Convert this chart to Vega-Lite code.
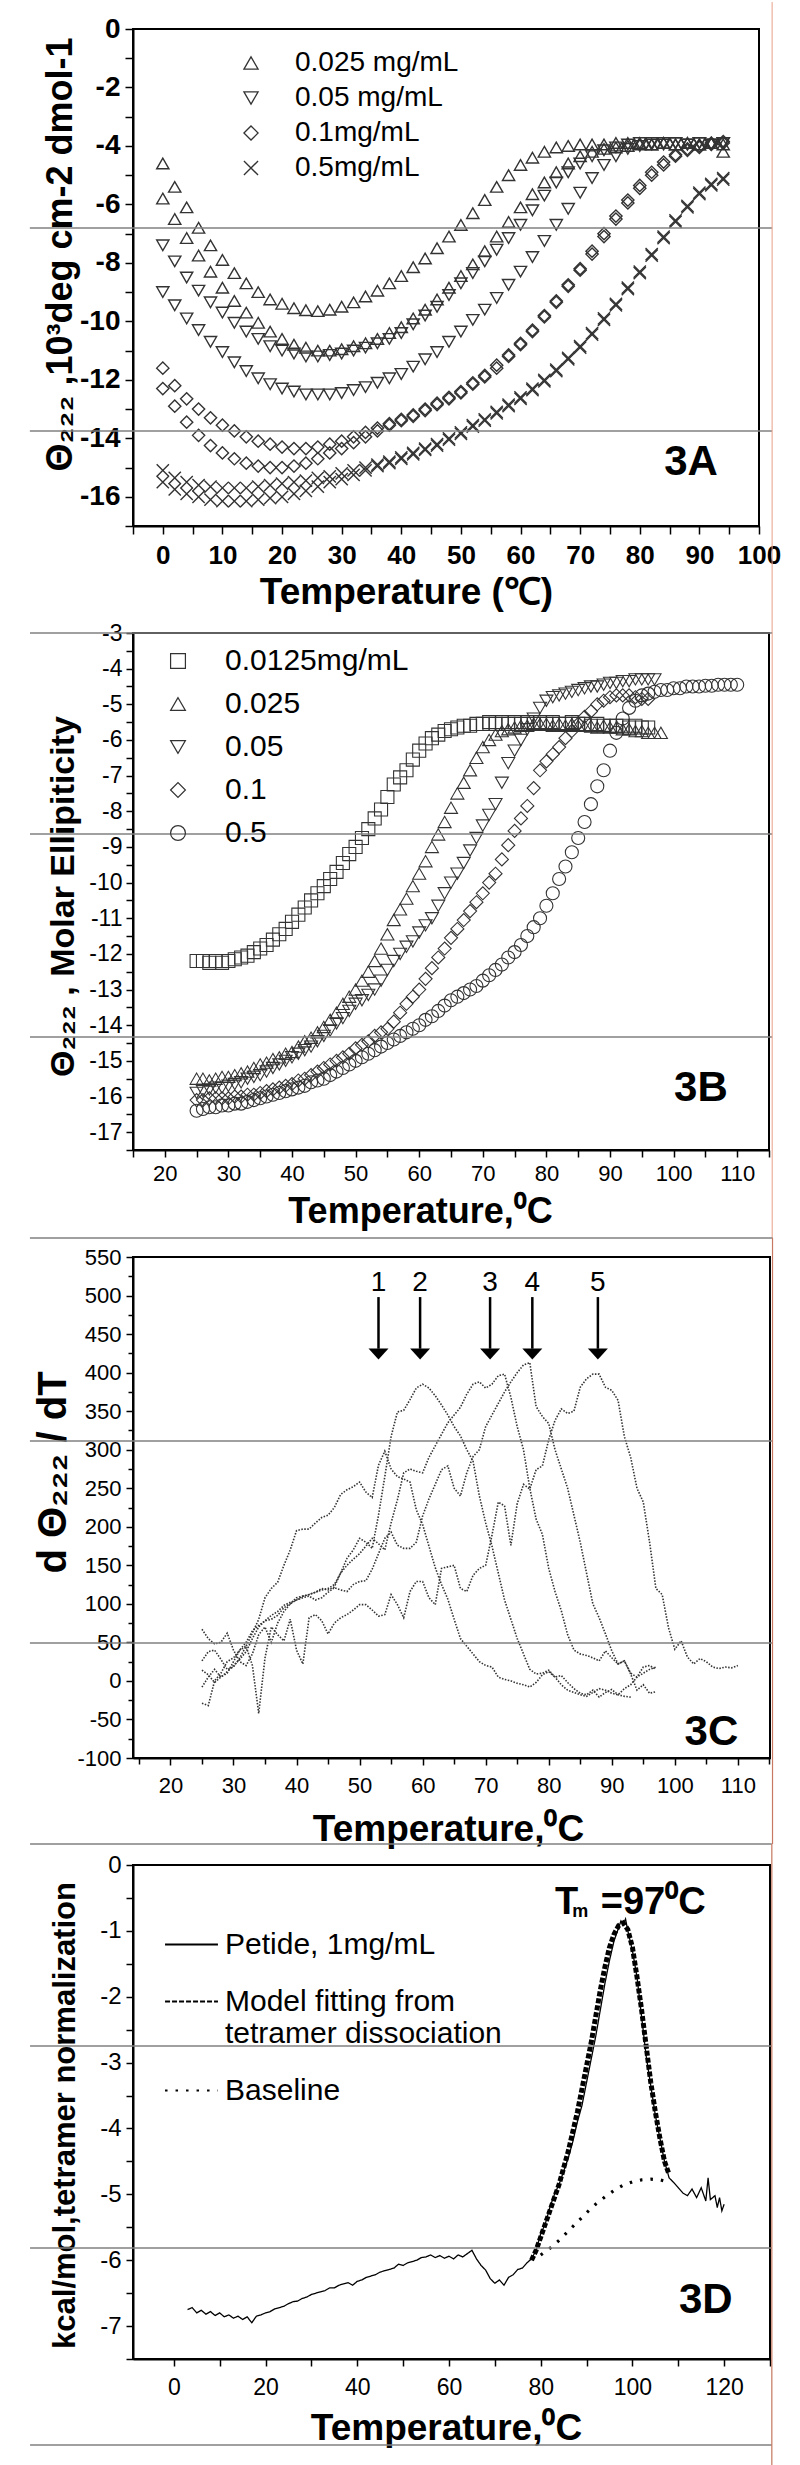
{
"$schema": "https://vega.github.io/schema/vega-lite/v6.json",
"background": "white",
"padding": {"left": 28, "top": 0, "right": 0, "bottom": 0},
"bounds": "flush",
"spacing": 107,
"config": {
 "font": "Liberation Sans",
 "view": {"stroke": "black", "strokeWidth": 2},
 "axis": {"domainColor": "black", "domainWidth": 2, "tickColor": "black", "tickWidth": 1.5, "labelColor": "black", "titleColor": "black", "grid": false, "labelFlush": false, "labelOverlap": false, "labelFont": "Liberation Sans", "titleFont": "Liberation Sans"},
 "legend": {"labelColor": "black", "labelFont": "Liberation Sans", "labelLimit": 500}
},
"resolve": {"scale": {"x": "independent", "y": "independent", "shape": "independent", "strokeDash": "independent", "strokeWidth": "independent"}, "legend": {"shape": "independent", "strokeDash": "independent", "strokeWidth": "independent"}},
"datasets": {
 "amap": [{"k":"a1","c":"0.025 mg/mL"},{"k":"a2","c":"0.025 mg/mL"},{"k":"a3","c":"0.05 mg/mL"},{"k":"a4","c":"0.05 mg/mL"},{"k":"a5","c":"0.1mg/mL"},{"k":"a6","c":"0.1mg/mL"},{"k":"a7","c":"0.5mg/mL"},{"k":"a8","c":"0.5mg/mL"}],
 "A": [
  {"t":0,"a1":-4.6,"a2":-5.8,"a3":-7.4,"a4":-9.0,"a5":-11.6,"a6":-12.3,"a7":-15.1,"a8":-15.5},
  {"t":2,"a1":-5.4,"a2":-6.5,"a3":-7.95,"a4":-9.45,"a5":-12.2,"a6":-12.9,"a7":-15.35,"a8":-15.75},
  {"t":4,"a1":-6.1,"a2":-7.15,"a3":-8.5,"a4":-9.9,"a5":-12.65,"a6":-13.45,"a7":-15.5,"a8":-15.9},
  {"t":6,"a1":-6.8,"a2":-7.75,"a3":-8.95,"a4":-10.3,"a5":-13.0,"a6":-13.9,"a7":-15.6,"a8":-16.0},
  {"t":8,"a1":-7.4,"a2":-8.3,"a3":-9.35,"a4":-10.7,"a5":-13.3,"a6":-14.25,"a7":-15.65,"a8":-16.1},
  {"t":10,"a1":-7.9,"a2":-8.85,"a3":-9.7,"a4":-11.05,"a5":-13.55,"a6":-14.5,"a7":-15.7,"a8":-16.15},
  {"t":12,"a1":-8.35,"a2":-9.3,"a3":-10.05,"a4":-11.4,"a5":-13.75,"a6":-14.7,"a7":-15.7,"a8":-16.15},
  {"t":14,"a1":-8.7,"a2":-9.7,"a3":-10.35,"a4":-11.7,"a5":-13.95,"a6":-14.85,"a7":-15.7,"a8":-16.15},
  {"t":16,"a1":-9.0,"a2":-10.05,"a3":-10.6,"a4":-11.95,"a5":-14.1,"a6":-14.95,"a7":-15.65,"a8":-16.1},
  {"t":18,"a1":-9.25,"a2":-10.35,"a3":-10.85,"a4":-12.15,"a5":-14.2,"a6":-15.0,"a7":-15.6,"a8":-16.05},
  {"t":20,"a1":-9.4,"a2":-10.6,"a3":-11.0,"a4":-12.3,"a5":-14.3,"a6":-15.0,"a7":-15.55,"a8":-16.0},
  {"t":22,"a1":-9.55,"a2":-10.8,"a3":-11.1,"a4":-12.4,"a5":-14.35,"a6":-14.95,"a7":-15.5,"a8":-15.9},
  {"t":24,"a1":-9.62,"a2":-10.9,"a3":-11.2,"a4":-12.5,"a5":-14.35,"a6":-14.85,"a7":-15.45,"a8":-15.8},
  {"t":26,"a1":-9.65,"a2":-11.0,"a3":-11.2,"a4":-12.5,"a5":-14.3,"a6":-14.7,"a7":-15.35,"a8":-15.65},
  {"t":28,"a1":-9.6,"a2":-11.0,"a3":-11.15,"a4":-12.5,"a5":-14.2,"a6":-14.5,"a7":-15.3,"a8":-15.5},
  {"t":30,"a1":-9.5,"a2":-10.95,"a3":-11.1,"a4":-12.45,"a5":-14.1,"a6":-14.35,"a7":-15.2,"a8":-15.4},
  {"t":32,"a1":-9.35,"a2":-10.85,"a3":-11.0,"a4":-12.35,"a5":-13.95,"a6":-14.15,"a7":-15.1,"a8":-15.25},
  {"t":34,"a1":-9.15,"a2":-10.75,"a3":-10.9,"a4":-12.25,"a5":-13.8,"a6":-13.95,"a7":-15.0,"a8":-15.1},
  {"t":36,"a1":-8.95,"a2":-10.6,"a3":-10.75,"a4":-12.1,"a5":-13.65,"a6":-13.75,"a7":-14.9,"a8":-14.95},
  {"t":38,"a1":-8.7,"a2":-10.4,"a3":-10.6,"a4":-11.95,"a5":-13.5,"a6":-13.55,"a7":-14.8,"a8":-14.85},
  {"t":40,"a1":-8.45,"a2":-10.2,"a3":-10.4,"a4":-11.8,"a5":-13.35,"a6":-13.4,"a7":-14.65,"a8":-14.7},
  {"t":42,"a1":-8.15,"a2":-9.9,"a3":-10.1,"a4":-11.55,"a5":-13.2,"a6":-13.25,"a7":-14.5,"a8":-14.55},
  {"t":44,"a1":-7.85,"a2":-9.6,"a3":-9.8,"a4":-11.3,"a5":-13.0,"a6":-13.05,"a7":-14.35,"a8":-14.4},
  {"t":46,"a1":-7.5,"a2":-9.25,"a3":-9.5,"a4":-11.05,"a5":-12.8,"a6":-12.85,"a7":-14.2,"a8":-14.25},
  {"t":48,"a1":-7.1,"a2":-8.85,"a3":-9.1,"a4":-10.7,"a5":-12.6,"a6":-12.65,"a7":-14.0,"a8":-14.05},
  {"t":50,"a1":-6.7,"a2":-8.45,"a3":-8.7,"a4":-10.35,"a5":-12.4,"a6":-12.45,"a7":-13.8,"a8":-13.85},
  {"t":52,"a1":-6.3,"a2":-8.05,"a3":-8.35,"a4":-9.95,"a5":-12.1,"a6":-12.15,"a7":-13.55,"a8":-13.6},
  {"t":54,"a1":-5.85,"a2":-7.6,"a3":-7.95,"a4":-9.6,"a5":-11.85,"a6":-11.9,"a7":-13.35,"a8":-13.4},
  {"t":56,"a1":-5.4,"a2":-7.1,"a3":-7.55,"a4":-9.2,"a5":-11.5,"a6":-11.6,"a7":-13.1,"a8":-13.15},
  {"t":58,"a1":-5.0,"a2":-6.6,"a3":-7.15,"a4":-8.75,"a5":-11.15,"a6":-11.2,"a7":-12.85,"a8":-12.9},
  {"t":60,"a1":-4.65,"a2":-6.1,"a3":-6.7,"a4":-8.3,"a5":-10.75,"a6":-10.8,"a7":-12.6,"a8":-12.65},
  {"t":62,"a1":-4.4,"a2":-5.65,"a3":-6.2,"a4":-7.8,"a5":-10.3,"a6":-10.35,"a7":-12.3,"a8":-12.35},
  {"t":64,"a1":-4.2,"a2":-5.25,"a3":-5.7,"a4":-7.25,"a5":-9.8,"a6":-9.85,"a7":-12.0,"a8":-12.05},
  {"t":66,"a1":-4.05,"a2":-4.9,"a3":-5.25,"a4":-6.7,"a5":-9.3,"a6":-9.35,"a7":-11.65,"a8":-11.7},
  {"t":68,"a1":-4.0,"a2":-4.6,"a3":-4.9,"a4":-6.15,"a5":-8.75,"a6":-8.8,"a7":-11.25,"a8":-11.3},
  {"t":70,"a1":-3.95,"a2":-4.35,"a3":-4.6,"a4":-5.6,"a5":-8.2,"a6":-8.25,"a7":-10.85,"a8":-10.9},
  {"t":72,"a1":-3.95,"a2":-4.2,"a3":-4.35,"a4":-5.1,"a5":-7.6,"a6":-7.7,"a7":-10.4,"a8":-10.45},
  {"t":74,"a1":-3.95,"a2":-4.1,"a3":-4.15,"a4":-4.65,"a5":-7.0,"a6":-7.1,"a7":-9.9,"a8":-9.95},
  {"t":76,"a1":-3.9,"a2":-4.05,"a3":-4.05,"a4":-4.35,"a5":-6.4,"a6":-6.5,"a7":-9.4,"a8":-9.45},
  {"t":78,"a1":-3.9,"a2":-4.0,"a3":-3.95,"a4":-4.1,"a5":-5.85,"a6":-5.95,"a7":-8.85,"a8":-8.9},
  {"t":80,"a1":-3.9,"a2":-3.95,"a3":-3.9,"a4":-4.0,"a5":-5.35,"a6":-5.45,"a7":-8.3,"a8":-8.35},
  {"t":82,"a1":-3.95,"a2":-3.95,"a3":-3.9,"a4":-3.95,"a5":-4.9,"a6":-5.0,"a7":-7.7,"a8":-7.75},
  {"t":84,"a1":-3.9,"a2":-3.9,"a3":-3.95,"a4":-3.9,"a5":-4.55,"a6":-4.65,"a7":-7.1,"a8":-7.15},
  {"t":86,"a1":-3.95,"a2":-3.95,"a3":-3.9,"a4":-3.9,"a5":-4.3,"a6":-4.35,"a7":-6.55,"a8":-6.6},
  {"t":88,"a1":-3.9,"a2":-3.9,"a3":-3.95,"a4":-3.95,"a5":-4.1,"a6":-4.15,"a7":-6.05,"a8":-6.1},
  {"t":90,"a1":-3.95,"a2":-3.95,"a3":-3.9,"a4":-3.9,"a5":-4.0,"a6":-4.05,"a7":-5.6,"a8":-5.65},
  {"t":92,"a1":-3.9,"a2":-3.9,"a3":-3.95,"a4":-3.95,"a5":-3.9,"a6":-3.95,"a7":-5.3,"a8":-5.35},
  {"t":94,"a1":-4.2,"a2":-3.95,"a3":-3.9,"a4":-3.9,"a5":-3.85,"a6":-3.9,"a7":-5.1,"a8":-5.15}
 ],
 "bmap": [{"k":"b1","c":"0.0125mg/mL"},{"k":"b2","c":"0.025"},{"k":"b3","c":"0.05"},{"k":"b4","c":"0.1"},{"k":"b5","c":"0.5"}],
 "B": [
  {"t":25,"b1":-12.2,"b2":-15.5,"b3":-15.9,"b4":-16.1,"b5":-16.4},
  {"t":26,"b1":-12.2,"b2":-15.5,"b3":-15.85,"b4":-16.1,"b5":-16.35},
  {"t":27,"b1":-12.25,"b2":-15.55,"b3":-15.8,"b4":-16.05,"b5":-16.3},
  {"t":28,"b1":-12.2,"b2":-15.5,"b3":-15.75,"b4":-16.05,"b5":-16.3},
  {"t":29,"b1":-12.25,"b2":-15.45,"b3":-15.75,"b4":-16.05,"b5":-16.25},
  {"t":30,"b1":-12.2,"b2":-15.45,"b3":-15.7,"b4":-16.05,"b5":-16.25},
  {"t":31,"b1":-12.15,"b2":-15.4,"b3":-15.65,"b4":-16.0,"b5":-16.2},
  {"t":32,"b1":-12.1,"b2":-15.35,"b3":-15.6,"b4":-16.0,"b5":-16.2},
  {"t":33,"b1":-12.05,"b2":-15.3,"b3":-15.5,"b4":-15.95,"b5":-16.15},
  {"t":34,"b1":-11.95,"b2":-15.2,"b3":-15.45,"b4":-15.95,"b5":-16.1},
  {"t":35,"b1":-11.85,"b2":-15.1,"b3":-15.4,"b4":-15.9,"b5":-16.05},
  {"t":36,"b1":-11.75,"b2":-15.05,"b3":-15.3,"b4":-15.85,"b5":-16.0},
  {"t":37,"b1":-11.6,"b2":-14.95,"b3":-15.2,"b4":-15.8,"b5":-15.95},
  {"t":38,"b1":-11.45,"b2":-14.9,"b3":-15.1,"b4":-15.75,"b5":-15.9},
  {"t":39,"b1":-11.3,"b2":-14.8,"b3":-15.0,"b4":-15.7,"b5":-15.85},
  {"t":40,"b1":-11.1,"b2":-14.75,"b3":-14.9,"b4":-15.65,"b5":-15.8},
  {"t":41,"b1":-10.9,"b2":-14.6,"b3":-14.8,"b4":-15.55,"b5":-15.75},
  {"t":42,"b1":-10.7,"b2":-14.45,"b3":-14.7,"b4":-15.5,"b5":-15.7},
  {"t":43,"b1":-10.5,"b2":-14.35,"b3":-14.6,"b4":-15.4,"b5":-15.6},
  {"t":44,"b1":-10.3,"b2":-14.2,"b3":-14.45,"b4":-15.3,"b5":-15.55},
  {"t":45,"b1":-10.1,"b2":-14.05,"b3":-14.3,"b4":-15.2,"b5":-15.5},
  {"t":46,"b1":-9.9,"b2":-13.85,"b3":-14.15,"b4":-15.1,"b5":-15.4},
  {"t":47,"b1":-9.7,"b2":-13.65,"b3":-13.95,"b4":-15.0,"b5":-15.3},
  {"t":48,"b1":-9.45,"b2":-13.4,"b3":-13.8,"b4":-14.9,"b5":-15.2},
  {"t":49,"b1":-9.2,"b2":-13.2,"b3":-13.6,"b4":-14.8,"b5":-15.1},
  {"t":50,"b1":-9.0,"b2":-13.0,"b3":-13.4,"b4":-14.65,"b5":-15.0},
  {"t":51,"b1":-8.75,"b2":-12.75,"b3":-13.3,"b4":-14.55,"b5":-14.9},
  {"t":52,"b1":-8.5,"b2":-12.5,"b3":-13.15,"b4":-14.45,"b5":-14.8},
  {"t":53,"b1":-8.2,"b2":-12.2,"b3":-13.0,"b4":-14.3,"b5":-14.7},
  {"t":54,"b1":-7.95,"b2":-11.85,"b3":-12.75,"b4":-14.2,"b5":-14.6},
  {"t":55,"b1":-7.6,"b2":-11.45,"b3":-12.45,"b4":-14.1,"b5":-14.5},
  {"t":56,"b1":-7.25,"b2":-11.05,"b3":-12.2,"b4":-13.9,"b5":-14.4},
  {"t":57,"b1":-7.05,"b2":-10.75,"b3":-12.0,"b4":-13.65,"b5":-14.3},
  {"t":58,"b1":-6.85,"b2":-10.45,"b3":-11.8,"b4":-13.4,"b5":-14.2},
  {"t":59,"b1":-6.55,"b2":-10.1,"b3":-11.65,"b4":-13.2,"b5":-14.1},
  {"t":60,"b1":-6.3,"b2":-9.75,"b3":-11.4,"b4":-13.0,"b5":-14.0},
  {"t":61,"b1":-6.1,"b2":-9.4,"b3":-11.2,"b4":-12.7,"b5":-13.85},
  {"t":62,"b1":-5.95,"b2":-9.0,"b3":-11.0,"b4":-12.4,"b5":-13.75},
  {"t":63,"b1":-5.85,"b2":-8.65,"b3":-10.65,"b4":-12.1,"b5":-13.6},
  {"t":64,"b1":-5.75,"b2":-8.3,"b3":-10.3,"b4":-11.85,"b5":-13.45},
  {"t":65,"b1":-5.7,"b2":-7.9,"b3":-10.0,"b4":-11.55,"b5":-13.3},
  {"t":66,"b1":-5.65,"b2":-7.5,"b3":-9.75,"b4":-11.3,"b5":-13.2},
  {"t":67,"b1":-5.6,"b2":-7.2,"b3":-9.45,"b4":-11.05,"b5":-13.1},
  {"t":68,"b1":-5.6,"b2":-6.85,"b3":-9.1,"b4":-10.8,"b5":-13.0},
  {"t":69,"b1":-5.55,"b2":-6.5,"b3":-8.75,"b4":-10.55,"b5":-12.9},
  {"t":70,"b1":-5.55,"b2":-6.2,"b3":-8.4,"b4":-10.3,"b5":-12.75},
  {"t":71,"b1":-5.5,"b2":-6.0,"b3":-8.1,"b4":-10.0,"b5":-12.6},
  {"t":72,"b1":-5.55,"b2":-5.85,"b3":-7.8,"b4":-9.75,"b5":-12.45},
  {"t":73,"b1":-5.5,"b2":-5.75,"b3":-7.2,"b4":-9.35,"b5":-12.3},
  {"t":74,"b1":-5.55,"b2":-5.7,"b3":-6.65,"b4":-8.95,"b5":-12.1},
  {"t":75,"b1":-5.5,"b2":-5.65,"b3":-6.3,"b4":-8.55,"b5":-11.95},
  {"t":76,"b1":-5.55,"b2":-5.6,"b3":-6.0,"b4":-8.2,"b5":-11.75},
  {"t":77,"b1":-5.5,"b2":-5.6,"b3":-5.7,"b4":-7.85,"b5":-11.5},
  {"t":78,"b1":-5.55,"b2":-5.55,"b3":-5.4,"b4":-7.35,"b5":-11.25},
  {"t":79,"b1":-5.5,"b2":-5.55,"b3":-5.1,"b4":-6.85,"b5":-11.0},
  {"t":80,"b1":-5.55,"b2":-5.55,"b3":-4.9,"b4":-6.6,"b5":-10.65},
  {"t":81,"b1":-5.5,"b2":-5.6,"b3":-4.8,"b4":-6.4,"b5":-10.3},
  {"t":82,"b1":-5.55,"b2":-5.55,"b3":-4.75,"b4":-6.2,"b5":-9.9},
  {"t":83,"b1":-5.55,"b2":-5.6,"b3":-4.7,"b4":-5.95,"b5":-9.55},
  {"t":84,"b1":-5.5,"b2":-5.55,"b3":-4.65,"b4":-5.75,"b5":-9.15},
  {"t":85,"b1":-5.55,"b2":-5.6,"b3":-4.6,"b4":-5.55,"b5":-8.75},
  {"t":86,"b1":-5.55,"b2":-5.6,"b3":-4.55,"b4":-5.35,"b5":-8.3},
  {"t":87,"b1":-5.6,"b2":-5.6,"b3":-4.5,"b4":-5.2,"b5":-7.8},
  {"t":88,"b1":-5.55,"b2":-5.65,"b3":-4.5,"b4":-5.0,"b5":-7.3},
  {"t":89,"b1":-5.6,"b2":-5.6,"b3":-4.45,"b4":-4.9,"b5":-6.85},
  {"t":90,"b1":-5.6,"b2":-5.65,"b3":-4.4,"b4":-4.8,"b5":-6.3},
  {"t":91,"b1":-5.6,"b2":-5.65,"b3":-4.4,"b4":-4.75,"b5":-5.8},
  {"t":92,"b1":-5.6,"b2":-5.7,"b3":-4.35,"b4":-4.75,"b5":-5.4},
  {"t":93,"b1":-5.65,"b2":-5.7,"b3":-4.35,"b4":-4.75,"b5":-5.1},
  {"t":94,"b1":-5.6,"b2":-5.75,"b3":-4.3,"b4":-4.8,"b5":-4.9},
  {"t":95,"b1":-5.65,"b2":-5.75,"b3":-4.3,"b4":-4.85,"b5":-4.75},
  {"t":96,"b1":-5.65,"b2":-5.8,"b3":-4.3,"b4":-4.85,"b5":-4.7},
  {"t":97,"b2":-5.8,"b3":-4.3,"b5":-4.65},
  {"t":98,"b2":-5.8,"b5":-4.6},
  {"t":99,"b5":-4.6},{"t":100,"b5":-4.55},{"t":101,"b5":-4.55},{"t":102,"b5":-4.5},{"t":103,"b5":-4.5},{"t":104,"b5":-4.5},{"t":105,"b5":-4.48},{"t":106,"b5":-4.48},{"t":107,"b5":-4.45},{"t":108,"b5":-4.45},{"t":109,"b5":-4.45},{"t":110,"b5":-4.45}
 ],
 "C": [
  {"t":25,"c1":26,"c2":14,"c3":-8,"c4":67,"c5":-29},
  {"t":26,"c1":38,"c2":8,"c3":5,"c4":55,"c5":-32},
  {"t":27,"c1":40,"c2":-2,"c3":15,"c4":48,"c5":0},
  {"t":28,"c1":28,"c2":5,"c3":5,"c4":50,"c5":10},
  {"t":29,"c1":15,"c2":12,"c3":10,"c4":62,"c5":25},
  {"t":30,"c1":18,"c2":20,"c3":25,"c4":40,"c5":30},
  {"t":31,"c1":30,"c2":28,"c3":40,"c4":25,"c5":40},
  {"t":32,"c1":45,"c2":38,"c3":50,"c4":20,"c5":45},
  {"t":33,"c1":62,"c2":55,"c3":65,"c4":35,"c5":20},
  {"t":34,"c1":80,"c2":70,"c3":72,"c4":60,"c5":-42},
  {"t":35,"c1":108,"c2":78,"c3":78,"c4":70,"c5":30},
  {"t":36,"c1":120,"c2":80,"c3":85,"c4":50,"c5":70},
  {"t":37,"c1":128,"c2":85,"c3":90,"c4":75,"c5":60},
  {"t":38,"c1":150,"c2":95,"c3":98,"c4":90,"c5":52},
  {"t":39,"c1":170,"c2":100,"c3":102,"c4":100,"c5":80},
  {"t":40,"c1":195,"c2":108,"c3":105,"c4":105,"c5":40},
  {"t":41,"c1":197,"c2":110,"c3":110,"c4":108,"c5":22},
  {"t":42,"c1":197,"c2":112,"c3":112,"c4":110,"c5":82},
  {"t":43,"c1":205,"c2":115,"c3":115,"c4":105,"c5":86},
  {"t":44,"c1":212,"c2":118,"c3":120,"c4":108,"c5":78},
  {"t":45,"c1":215,"c2":120,"c3":118,"c4":115,"c5":61},
  {"t":46,"c1":225,"c2":125,"c3":122,"c4":121,"c5":75},
  {"t":47,"c1":242,"c2":140,"c3":140,"c4":118,"c5":82},
  {"t":48,"c1":248,"c2":159,"c3":150,"c4":116,"c5":86},
  {"t":49,"c1":252,"c2":170,"c3":158,"c4":125,"c5":92},
  {"t":50,"c1":258,"c2":185,"c3":165,"c4":129,"c5":99},
  {"t":51,"c1":245,"c2":180,"c3":175,"c4":130,"c5":99},
  {"t":52,"c1":238,"c2":172,"c3":185,"c4":145,"c5":92},
  {"t":53,"c1":280,"c2":215,"c3":178,"c4":165,"c5":84},
  {"t":54,"c1":298,"c2":265,"c3":170,"c4":185,"c5":86},
  {"t":55,"c1":275,"c2":317,"c3":205,"c4":193,"c5":112},
  {"t":56,"c1":265,"c2":349,"c3":235,"c4":176,"c5":99},
  {"t":57,"c1":262,"c2":351,"c3":270,"c4":172,"c5":82},
  {"t":58,"c1":258,"c2":365,"c3":275,"c4":172,"c5":116},
  {"t":59,"c1":222,"c2":380,"c3":272,"c4":180,"c5":129},
  {"t":60,"c1":203,"c2":385,"c3":270,"c4":214,"c5":129},
  {"t":61,"c1":175,"c2":380,"c3":290,"c4":236,"c5":108},
  {"t":62,"c1":147,"c2":370,"c3":305,"c4":255,"c5":99},
  {"t":63,"c1":125,"c2":358,"c3":320,"c4":274,"c5":146},
  {"t":64,"c1":106,"c2":345,"c3":335,"c4":279,"c5":148},
  {"t":65,"c1":80,"c2":330,"c3":345,"c4":250,"c5":150},
  {"t":66,"c1":55,"c2":318,"c3":355,"c4":240,"c5":120},
  {"t":67,"c1":45,"c2":300,"c3":372,"c4":270,"c5":116},
  {"t":68,"c1":35,"c2":285,"c3":385,"c4":291,"c5":137},
  {"t":69,"c1":25,"c2":240,"c3":388,"c4":300,"c5":146},
  {"t":70,"c1":20,"c2":205,"c3":380,"c4":330,"c5":150},
  {"t":71,"c1":18,"c2":175,"c3":385,"c4":345,"c5":189},
  {"t":72,"c1":5,"c2":140,"c3":396,"c4":360,"c5":232},
  {"t":73,"c1":2,"c2":105,"c3":398,"c4":375,"c5":227},
  {"t":74,"c1":0,"c2":80,"c3":368,"c4":388,"c5":176},
  {"t":75,"c1":-3,"c2":55,"c3":330,"c4":400,"c5":230},
  {"t":76,"c1":-5,"c2":35,"c3":300,"c4":410,"c5":255},
  {"t":77,"c1":-8,"c2":15,"c3":250,"c4":413,"c5":249},
  {"t":78,"c1":-2,"c2":9,"c3":210,"c4":356,"c5":274},
  {"t":79,"c1":8,"c2":10,"c3":190,"c4":343,"c5":279},
  {"t":80,"c1":12,"c2":14,"c3":146,"c4":334,"c5":313},
  {"t":81,"c1":5,"c2":5,"c3":116,"c4":300,"c5":338},
  {"t":82,"c1":7,"c2":-5,"c3":91,"c4":275,"c5":353},
  {"t":83,"c1":-2,"c2":-12,"c3":60,"c4":250,"c5":347},
  {"t":84,"c1":-10,"c2":-15,"c3":40,"c4":215,"c5":350},
  {"t":85,"c1":-16,"c2":-18,"c3":35,"c4":180,"c5":381},
  {"t":86,"c1":-18,"c2":-20,"c3":33,"c4":140,"c5":392},
  {"t":87,"c1":-12,"c2":-15,"c3":30,"c4":100,"c5":398},
  {"t":88,"c1":-21,"c2":-10,"c3":26,"c4":82,"c5":398},
  {"t":89,"c1":-15,"c2":-12,"c3":39,"c4":61,"c5":381},
  {"t":90,"c1":-11,"c2":-16,"c3":30,"c4":39,"c5":377},
  {"t":91,"c1":-18,"c2":-18,"c3":22,"c4":22,"c5":364},
  {"t":92,"c1":-20,"c2":-10,"c3":26,"c4":26,"c5":317},
  {"t":93,"c1":-21,"c2":-5,"c3":10,"c4":9,"c5":290},
  {"t":94,"c2":5,"c3":5,"c4":-12,"c5":250},
  {"t":95,"c2":10,"c3":18,"c4":-5,"c5":232},
  {"t":96,"c2":15,"c3":20,"c4":-16,"c5":180},
  {"t":97,"c2":18,"c3":15,"c4":-14,"c5":120},
  {"t":98,"c5":112},{"t":99,"c5":69},{"t":100,"c5":41},{"t":101,"c5":52},{"t":102,"c5":31},{"t":103,"c5":22},{"t":104,"c5":29},{"t":105,"c5":25},{"t":106,"c5":18},{"t":107,"c5":16},{"t":108,"c5":18},{"t":109,"c5":17},{"t":110,"c5":20}
 ],
 "dmap": [{"k":"p","s":"Petide, 1mg/mL"},{"k":"m","s":"Model fitting from tetramer dissociation"},{"k":"b","s":"Baseline"}],
 "D": [
  {"t":3,"p":-6.75},{"t":4,"p":-6.72},{"t":5,"p":-6.8},{"t":6,"p":-6.76},{"t":7,"p":-6.82},{"t":8,"p":-6.78},{"t":9,"p":-6.84},{"t":10,"p":-6.8},
  {"t":11,"p":-6.86},{"t":12,"p":-6.83},{"t":13,"p":-6.88},{"t":14,"p":-6.85},{"t":15,"p":-6.9},{"t":16,"p":-6.86},{"t":17,"p":-6.95},{"t":18,"p":-6.85},
  {"t":19,"p":-6.83},{"t":20,"p":-6.8},{"t":21,"p":-6.78},{"t":22,"p":-6.74},{"t":23,"p":-6.72},{"t":24,"p":-6.7},{"t":25,"p":-6.66},{"t":26,"p":-6.63},
  {"t":27,"p":-6.62},{"t":28,"p":-6.58},{"t":29,"p":-6.56},{"t":30,"p":-6.52},{"t":31,"p":-6.5},{"t":32,"p":-6.48},{"t":33,"p":-6.46},{"t":34,"p":-6.42},
  {"t":35,"p":-6.42},{"t":36,"p":-6.38},{"t":37,"p":-6.36},{"t":38,"p":-6.34},{"t":39,"p":-6.38},{"t":40,"p":-6.32},{"t":41,"p":-6.3},{"t":42,"p":-6.26},
  {"t":43,"p":-6.24},{"t":44,"p":-6.22},{"t":45,"p":-6.18},{"t":46,"p":-6.16},{"t":47,"p":-6.14},{"t":48,"p":-6.12},{"t":49,"p":-6.06},{"t":50,"p":-6.08},
  {"t":51,"p":-6.04},{"t":52,"p":-6.02},{"t":53,"p":-6.0},{"t":54,"p":-5.96},{"t":55,"p":-5.95},{"t":56,"p":-5.92},{"t":57,"p":-5.96},{"t":58,"p":-5.93},
  {"t":59,"p":-5.97},{"t":60,"p":-5.94},{"t":61,"p":-5.98},{"t":62,"p":-5.92},{"t":63,"p":-5.95},{"t":64,"p":-5.9},{"t":65,"p":-5.85},{"t":66,"p":-5.98},
  {"t":67,"p":-6.08},{"t":68,"p":-6.15},{"t":69,"p":-6.28},{"t":70,"p":-6.35},{"t":71,"p":-6.3},{"t":72,"p":-6.38},{"t":73,"p":-6.26},{"t":74,"p":-6.22},
  {"t":75,"p":-6.14},{"t":76,"p":-6.12},{"t":77,"p":-6.04},
  {"t":78,"p":-5.98,"m":-6.0},{"t":79,"p":-5.85,"m":-5.85},{"t":80,"p":-5.6,"m":-5.65,"b":-5.92},{"t":81,"p":-5.45,"m":-5.45},
  {"t":82,"p":-5.2,"m":-5.25,"b":-5.82},{"t":83,"p":-5.0,"m":-5.05},{"t":84,"p":-4.85,"m":-4.85,"b":-5.7},{"t":85,"p":-4.65,"m":-4.6},
  {"t":86,"p":-4.45,"m":-4.35,"b":-5.56},{"t":87,"p":-4.2,"m":-4.05},{"t":88,"p":-3.9,"m":-3.75,"b":-5.42},{"t":89,"p":-3.65,"m":-3.4},
  {"t":90,"p":-3.3,"m":-3.05,"b":-5.28},{"t":91,"p":-2.95,"m":-2.7},{"t":92,"p":-2.6,"m":-2.3,"b":-5.15},{"t":93,"p":-2.2,"m":-1.9},
  {"t":94,"p":-1.8,"m":-1.55,"b":-5.04},{"t":95,"p":-1.45,"m":-1.25},{"t":96,"p":-1.15,"m":-1.05,"b":-4.94},{"t":97,"p":-0.95,"m":-0.92},
  {"t":97.5,"p":-0.85},{"t":98,"p":-0.9,"m":-0.88,"b":-4.86},{"t":98.5,"p":-0.82},{"t":99,"p":-1.0,"m":-0.98},
  {"t":100,"p":-1.3,"m":-1.25,"b":-4.81},{"t":101,"p":-1.7,"m":-1.7},{"t":102,"p":-2.3,"m":-2.2,"b":-4.78},{"t":103,"p":-2.9,"m":-2.75},
  {"t":104,"p":-3.35,"m":-3.3,"b":-4.77},{"t":105,"p":-3.8,"m":-3.75},{"t":106,"p":-4.15,"m":-4.15,"b":-4.78},{"t":107,"p":-4.5,"m":-4.5},
  {"t":108,"p":-4.75,"m":-4.7,"b":-4.82},{"t":109,"p":-4.82},{"t":110,"p":-4.9},{"t":111,"p":-4.98},{"t":112,"p":-5.02},{"t":113,"p":-4.92},
  {"t":114,"p":-5.05},{"t":115,"p":-4.9},{"t":116,"p":-5.1},{"t":116.5,"p":-4.75},{"t":117,"p":-5.08},{"t":118,"p":-5.02},{"t":118.5,"p":-5.2},
  {"t":119,"p":-5.05},{"t":119.5,"p":-5.25},{"t":120,"p":-5.15}
 ],
 "arrows": [{"n":"1","t":53},{"n":"2","t":59.6},{"n":"3","t":70.7},{"n":"4","t":77.4},{"n":"5","t":87.8}]
},
"vconcat": [
 {
  "width": 626, "height": 497,
  "resolve": {"axis": {"x": "independent", "y": "independent"}},
  "layer": [
   {
    "data": {"name": "A"},
    "transform": [
     {"fold": ["a1","a2","a3","a4","a5","a6","a7","a8"], "as": ["k","v"]},
     {"filter": "isValid(datum.v)"},
     {"lookup": "k", "from": {"data": {"name": "amap"}, "key": "k", "fields": ["c"]}}
    ],
    "mark": {"type": "point", "filled": false, "size": 150, "strokeWidth": 1.4, "color": "#333333", "opacity": 1},
    "encoding": {
     "x": {"field": "t", "type": "quantitative", "scale": {"domain": [-5, 100], "nice": false, "zero": false},
      "axis": {"orient": "bottom", "values": [0,10,20,30,40,50,60,70,80,90,100], "labelExpr": "'' + datum.value", "labelOverlap": false,
       "tickSize": 8, "labelFontSize": 26, "labelFontWeight": "bold", "labelPadding": 8,
       "title": "Temperature (℃)", "titleFontSize": 37, "titleFontWeight": "bold", "titleX": 273, "titleY": 66, "titleBaseline": "middle"}},
     "y": {"field": "v", "type": "quantitative", "scale": {"domain": [-17, 0], "nice": false, "zero": false},
      "axis": {"orient": "left", "values": [-16,-14,-12,-10,-8,-6,-4,-2,0], "labelExpr": "'' + datum.value", "labelOverlap": false,
       "tickSize": 8, "labelFontSize": 28, "labelFontWeight": "bold", "labelPadding": 5,
       "title": "Θ₂₂₂ ,10³deg cm-2 dmol-1", "titleFontSize": 36, "titleFontWeight": "bold", "titleX": -73, "titleY": 225, "titleBaseline": "middle"}},
     "shape": {"field": "c", "type": "nominal",
      "scale": {"domain": ["0.025 mg/mL","0.05 mg/mL","0.1mg/mL","0.5mg/mL"], "range": ["triangle-up","triangle-down","diamond","M-1,-1L1,1M1,-1L-1,1"]},
      "legend": {"orient": "none", "legendX": 104, "legendY": 20, "title": null, "labelFontSize": 28, "symbolSize": 200, "symbolStrokeWidth": 1.3, "symbolStrokeColor": "#333333", "labelOffset": 30, "rowPadding": 7}}
    }
   },
   {
    "data": {"values": [{"v": -6.81}, {"v": -13.75}]},
    "mark": {"type": "rule", "color": "#808080", "strokeWidth": 1.5},
    "encoding": {
     "y": {"field": "v", "type": "quantitative", "axis": {"orient": "left", "values": [-17,-15,-13,-11,-9,-7,-5,-3,-1], "labels": false, "domain": false, "title": null, "tickSize": 8}},
     "x": {"datum": -22.3, "axis": {"orient": "bottom", "values": [-5,5,15,25,35,45,55,65,75,85,95], "labels": false, "domain": false, "title": null, "tickSize": 8}},
     "x2": {"datum": 102.2}}
   },
   {
    "data": {"values": [{}]},
    "mark": {"type": "rule", "color": "#e8a088", "strokeWidth": 1},
    "encoding": {"x": {"datum": 102.2, "axis": null}, "y": {"datum": 0.92, "axis": null}, "y2": {"datum": -20.66}}
   },
   {
    "data": {"values": [{}]},
    "mark": {"type": "text", "fontSize": 42, "fontWeight": "bold", "color": "black"},
    "encoding": {"x": {"datum": 88.6, "axis": null}, "y": {"datum": -14.81, "axis": null}, "text": {"value": "3A"}}
   }
  ]
 },
 {
  "width": 636, "height": 517,
  "resolve": {"axis": {"x": "independent", "y": "independent"}},
  "layer": [
   {
    "data": {"name": "B"},
    "transform": [
     {"fold": ["b1","b2","b3","b4","b5"], "as": ["k","v"]},
     {"filter": "isValid(datum.v)"},
     {"lookup": "k", "from": {"data": {"name": "bmap"}, "key": "k", "fields": ["c"]}}
    ],
    "mark": {"type": "point", "filled": false, "size": 170, "strokeWidth": 1.1, "color": "#333333", "opacity": 1},
    "encoding": {
     "x": {"field": "t", "type": "quantitative", "scale": {"domain": [15, 115], "nice": false, "zero": false},
      "axis": {"orient": "bottom", "values": [20,30,40,50,60,70,80,90,100,110], "labelExpr": "'' + datum.value", "labelOverlap": false,
       "tickSize": 7, "labelFontSize": 22, "labelPadding": 6,
       "title": "Temperature,⁰C", "titleFontSize": 36, "titleFontWeight": "bold", "titleX": 287, "titleY": 61, "titleBaseline": "middle"}},
     "y": {"field": "v", "type": "quantitative", "scale": {"domain": [-17.5, -3], "nice": false, "zero": false},
      "axis": {"orient": "left", "values": [-17,-16,-15,-14,-13,-12,-11,-10,-9,-8,-7,-6,-5,-4,-3], "labelExpr": "'' + datum.value", "labelOverlap": false,
       "tickSize": 7, "labelFontSize": 23, "labelPadding": 4,
       "title": "Θ₂₂₂ , Molar Ellipiticity", "titleFontSize": 34, "titleFontWeight": "bold", "titleX": -70, "titleY": 263, "titleBaseline": "middle"}},
     "shape": {"field": "c", "type": "nominal",
      "scale": {"domain": ["0.0125mg/mL","0.025","0.05","0.1","0.5"], "range": ["square","triangle-up","triangle-down","diamond","circle"]},
      "legend": {"orient": "none", "legendX": 30, "legendY": 13, "title": null, "labelFontSize": 30, "symbolSize": 220, "symbolStrokeWidth": 1.2, "symbolStrokeColor": "#333333", "labelOffset": 32, "rowPadding": 13}}
    }
   },
   {
    "data": {"values": [{"v": -3}, {"v": -8.637}, {"v": -14.33}]},
    "mark": {"type": "rule", "color": "#808080", "strokeWidth": 1.5},
    "encoding": {
     "y": {"field": "v", "type": "quantitative", "axis": {"orient": "left", "values": [-17.5,-16.5,-15.5,-14.5,-13.5,-12.5,-11.5,-10.5,-9.5,-8.5,-7.5,-6.5,-5.5,-4.5,-3.5], "labels": false, "domain": false, "title": null, "tickSize": 7}},
     "x": {"datum": -1.2, "axis": {"orient": "bottom", "values": [15,25,35,45,55,65,75,85,95,105,115], "labels": false, "domain": false, "title": null, "tickSize": 7}},
     "x2": {"datum": 115.5}}
   },
   {
    "data": {"values": [{}]},
    "mark": {"type": "rule", "color": "#e8a088", "strokeWidth": 1},
    "encoding": {"x": {"datum": 115.5, "axis": null}, "y": {"datum": -3, "axis": null}, "y2": {"datum": -19.97}}
   },
   {
    "data": {"values": [{}]},
    "mark": {"type": "text", "fontSize": 42, "fontWeight": "bold", "color": "black"},
    "encoding": {"x": {"datum": 104.3, "axis": null}, "y": {"datum": -15.76, "axis": null}, "text": {"value": "3B"}}
   }
  ]
 },
 {
  "width": 637, "height": 501,
  "resolve": {"axis": {"x": "independent", "y": "independent"}},
  "layer": [
   {
    "data": {"name": "C"},
    "transform": [
     {"fold": ["c1","c2","c3","c4","c5"], "as": ["k","v"]},
     {"filter": "isValid(datum.v)"}
    ],
    "mark": {"type": "line", "color": "#333333", "strokeWidth": 1.6, "strokeDash": [1.5, 1.5]},
    "encoding": {
     "x": {"field": "t", "type": "quantitative", "scale": {"domain": [14.06, 115.1], "nice": false, "zero": false},
      "axis": {"orient": "bottom", "values": [20,30,40,50,60,70,80,90,100,110], "labelExpr": "'' + datum.value", "labelOverlap": false,
       "tickSize": 7, "labelFontSize": 22, "labelPadding": 10,
       "title": "Temperature,⁰C", "titleFontSize": 37, "titleFontWeight": "bold", "titleX": 315, "titleY": 71, "titleBaseline": "middle"}},
     "y": {"field": "v", "type": "quantitative", "scale": {"domain": [-100, 550], "nice": false, "zero": false},
      "axis": {"orient": "left", "values": [-100,-50,0,50,100,150,200,250,300,350,400,450,500,550], "labelExpr": "'' + datum.value", "labelOverlap": false,
       "tickSize": 7, "labelFontSize": 22, "labelPadding": 5,
       "title": "d Θ₂₂₂ / dT", "titleFontSize": 40, "titleFontWeight": "bold", "titleX": -80, "titleY": 215, "titleBaseline": "middle"}},
     "detail": {"field": "k", "type": "nominal"}
    }
   },
   {
    "data": {"values": [{"v": 574.6}, {"v": 311.3}, {"v": 49.2}]},
    "mark": {"type": "rule", "color": "#808080", "strokeWidth": 1.5},
    "encoding": {
     "y": {"field": "v", "type": "quantitative", "axis": {"orient": "left", "values": [-75,-25,25,75,125,175,225,275,325,375,425,475,525], "labels": false, "domain": false, "title": null, "tickSize": 5}},
     "x": {"datum": -2.29, "axis": {"orient": "bottom", "values": [15,25,35,45,55,65,75,85,95,105,115], "labels": false, "domain": false, "title": null, "tickSize": 6}},
     "x2": {"datum": 115.5}}
   },
   {
    "data": {"name": "arrows"},
    "mark": {"type": "rule", "color": "black", "strokeWidth": 2.5},
    "encoding": {"x": {"field": "t", "type": "quantitative", "axis": null}, "y": {"datum": 498, "axis": null}, "y2": {"datum": 431}}
   },
   {
    "data": {"name": "arrows"},
    "mark": {"type": "point", "shape": "M-1,-0.55L1,-0.55L0,0.55Z", "filled": true, "size": 400, "color": "black", "opacity": 1},
    "encoding": {"x": {"field": "t", "type": "quantitative", "axis": null}, "y": {"datum": 424, "axis": null}}
   },
   {
    "data": {"name": "arrows"},
    "mark": {"type": "text", "fontSize": 28, "color": "black"},
    "encoding": {"x": {"field": "t", "type": "quantitative", "axis": null}, "y": {"datum": 516, "axis": null}, "text": {"field": "n"}}
   },
   {
    "data": {"values": [{}]},
    "mark": {"type": "rule", "color": "#c87860", "strokeWidth": 1.2},
    "encoding": {"x": {"datum": 115.5, "axis": null}, "y": {"datum": 574.6, "axis": null}, "y2": {"datum": -211.5}}
   },
   {
    "data": {"values": [{}]},
    "mark": {"type": "text", "fontSize": 42, "fontWeight": "bold", "color": "black"},
    "encoding": {"x": {"datum": 105.8, "axis": null}, "y": {"datum": -66, "axis": null}, "text": {"value": "3C"}}
   }
  ]
 },
 {
  "width": 637, "height": 494,
  "resolve": {"axis": {"x": "independent", "y": "independent"}},
  "layer": [
   {
    "data": {"name": "D"},
    "transform": [
     {"fold": ["p","m","b"], "as": ["k","v"]},
     {"filter": "isValid(datum.v)"},
     {"lookup": "k", "from": {"data": {"name": "dmap"}, "key": "k", "fields": ["s"]}}
    ],
    "mark": {"type": "line", "color": "black"},
    "encoding": {
     "x": {"field": "t", "type": "quantitative", "scale": {"domain": [-8.9, 130], "nice": false, "zero": false},
      "axis": {"orient": "bottom", "values": [0,20,40,60,80,100,120], "labelExpr": "'' + datum.value", "labelOverlap": false,
       "tickSize": 7, "labelFontSize": 23, "labelPadding": 10,
       "title": "Temperature,⁰C", "titleFontSize": 37, "titleFontWeight": "bold", "titleX": 313, "titleY": 69, "titleBaseline": "middle"}},
     "y": {"field": "v", "type": "quantitative", "scale": {"domain": [-7.5, 0], "nice": false, "zero": false},
      "axis": {"orient": "left", "values": [-7,-6,-5,-4,-3,-2,-1,0], "labelExpr": "'' + datum.value", "labelOverlap": false,
       "tickSize": 7, "labelFontSize": 24, "labelPadding": 5,
       "title": "kcal/mol,tetramer normalization", "titleFontSize": 31, "titleFontWeight": "bold", "titleX": -68, "titleY": 250, "titleBaseline": "middle"}},
     "strokeDash": {"field": "s", "type": "nominal",
      "scale": {"domain": ["Petide, 1mg/mL","Model fitting from tetramer dissociation","Baseline"], "range": [[1,0],[5,2],[2.5,8]]},
      "legend": {"orient": "none", "legendX": 31, "legendY": 52, "title": null, "labelFontSize": 30, "symbolSize": 2800, "symbolType": "stroke", "symbolStrokeColor": "black", "symbolStrokeWidth": 2, "labelOffset": 6, "rowPadding": 14,
       "labelExpr": "datum.label == 'Model fitting from tetramer dissociation' ? ['Model fitting from', 'tetramer dissociation'] : datum.label"}},
     "strokeWidth": {"field": "s", "type": "nominal",
      "scale": {"domain": ["Petide, 1mg/mL","Baseline","Model fitting from tetramer dissociation"], "range": [1.3, 5]},
      "legend": null}
    }
   },
   {
    "data": {"values": [{"v": 0.319}, {"v": -2.748}, {"v": -5.814}, {"v": -8.805}]},
    "mark": {"type": "rule", "color": "#808080", "strokeWidth": 1.5},
    "encoding": {
     "y": {"field": "v", "type": "quantitative", "axis": {"orient": "left", "values": [-7.5,-6.5,-5.5,-4.5,-3.5,-2.5,-1.5,-0.5], "labels": false, "domain": false, "title": null, "tickSize": 7}},
     "x": {"datum": -31.35, "axis": {"orient": "bottom", "values": [10,30,50,70,90,110,130], "labels": false, "domain": false, "title": null, "tickSize": 7}},
     "x2": {"datum": 130.4}}
   },
   {
    "data": {"values": [{}]},
    "mark": {"type": "rule", "color": "#c87860", "strokeWidth": 1.2},
    "encoding": {"x": {"datum": 130.4, "axis": null}, "y": {"datum": 0.319, "axis": null}, "y2": {"datum": -9.14}}
   },
   {
    "data": {"values": [{}]},
    "mark": {"type": "text", "fontSize": 42, "fontWeight": "bold", "color": "black"},
    "encoding": {"x": {"datum": 116, "axis": null}, "y": {"datum": -6.6, "axis": null}, "text": {"value": "3D"}}
   },
   {
    "data": {"values": [{}]},
    "mark": {"type": "text", "fontSize": 38, "fontWeight": "bold", "color": "black", "align": "left"},
    "encoding": {"x": {"datum": 83.1, "axis": null}, "y": {"datum": -0.577, "axis": null}, "text": {"value": "T"}}
   },
   {
    "data": {"values": [{}]},
    "mark": {"type": "text", "fontSize": 18, "fontWeight": "bold", "color": "black", "align": "left"},
    "encoding": {"x": {"datum": 86.9, "axis": null}, "y": {"datum": -0.71, "axis": null}, "text": {"value": "m"}}
   },
   {
    "data": {"values": [{}]},
    "mark": {"type": "text", "fontSize": 38, "fontWeight": "bold", "color": "black", "align": "left"},
    "encoding": {"x": {"datum": 93.1, "axis": null}, "y": {"datum": -0.577, "axis": null}, "text": {"value": "=97⁰C"}}
   }
  ]
 }
]
}
